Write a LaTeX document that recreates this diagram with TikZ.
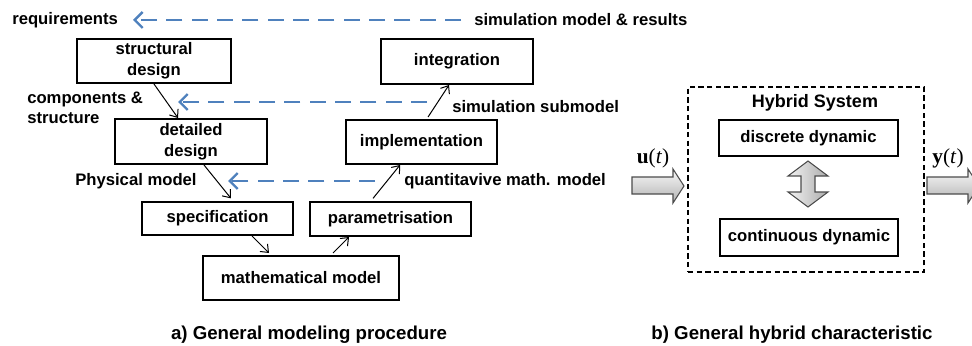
\documentclass[tikz,border=0pt]{standalone}
\usepackage{fontspec}
\setmainfont{Liberation Sans}
\newfontfamily\serifface{Liberation Serif}
\usetikzlibrary{arrows.meta}
\definecolor{dashblue}{HTML}{4F81BD}
\tikzset{
  box/.style={draw, line width=1.5pt, inner sep=0pt, align=center, font=\bfseries\fontsize{12.5}{15.5}\selectfont},
  lbl/.style={inner sep=0pt, align=left, font=\bfseries\fontsize{12.5}{15}\selectfont},
  captiontext/.style={inner sep=0pt, font=\bfseries\fontsize{14}{16}\selectfont},
  flow/.style={line width=0.75pt, -{Straight Barb[length=5pt,width=8pt]}},
  back/.style={dashblue, line width=1.8pt, dash pattern=on 12pt off 7pt, -{Straight Barb[length=6pt,width=12pt]}},
  grayarrow/.style={draw=gray!60!black, line width=0.8pt},
}
\begin{document}
\begin{tikzpicture}[x=0.75pt,y=-0.75pt]
\useasboundingbox (0,0) rectangle (972,346);
\clip (0,0) rectangle (972,346);
% left part: boxes
\node[box, minimum width=115.5pt, minimum height=33pt] (sd) at (154,61) {structural\\design};
\node[box, minimum width=114pt, minimum height=33.75pt] (dd) at (191,141.5) {detailed\\design};
\node[box, minimum width=113.25pt, minimum height=24.75pt] (spec) at (217.5,218.5) {specification};
\node[box, minimum width=120.75pt, minimum height=25.5pt] (param) at (390.5,219) {parametrisation};
\node[box, minimum width=147pt, minimum height=33pt] (mm) at (301,278) {mathematical model};
\node[box, minimum width=114pt, minimum height=33.75pt] (integ) at (457,61.5) {integration};
\node[box, minimum width=113.25pt, minimum height=33pt] (impl) at (421.5,142) {implementation};
% labels
\node[lbl, anchor=west] (req) at (12,20) {requirements};
\node[lbl, anchor=west] (simres) at (474,20) {simulation model \& results};
\node[lbl, anchor=west] (comp) at (27,108) {components \&\\structure};
\node[lbl, anchor=west] (phys) at (75,181) {Physical model};
\node[lbl, anchor=west] (quant) at (404,181) {quantitavive math. model};
\node[lbl, anchor=west] (simsub) at (452,107) {simulation submodel};
\node[captiontext] (capa) at (309,335) {a) General modeling procedure};
\node[captiontext] (capb) at (792,335) {b) General hybrid characteristic};
% solid flow arrows
\draw[flow] (sd.south) -- ([xshift=-9.75pt]dd.north);
\draw[flow] ([xshift=9.75pt]dd.south) -- ([xshift=10.1pt,yshift=2pt]spec.north);
\draw[flow] ([xshift=25.9pt]spec.south) -- ([xshift=-24pt,yshift=1.5pt]mm.north);
\draw[flow] ([xshift=24pt,yshift=1.5pt]mm.north) -- ([xshift=-31.1pt]param.south);
\draw[flow] ([xshift=-13.1pt,yshift=2pt]param.north) -- ([xshift=-16.1pt]impl.south);
\draw[flow] ([xshift=4.9pt,yshift=1.5pt]impl.north) -- ([xshift=-6pt]integ.south);
% dashed back arrows
\coordinate (b1s) at (461,20);
\coordinate (b1e) at (133,20);
\coordinate (b2s) at (427,102);
\coordinate (b2e) at (178,102);
\coordinate (b3s) at (375,181);
\coordinate (b3e) at (228,181);
\draw[back] (b1s) -- (b1e);
\draw[back] (b2s) -- (b2e);
\draw[back] (b3s) -- (b3e);
% right part
\node[draw, line width=1.2pt, dash pattern=on 4pt off 2.5pt, minimum width=177pt, minimum height=138.75pt, inner sep=0pt] (hyb) at (806,179.5) {};
\node[inner sep=0pt, font=\bfseries\fontsize{13.5}{16}\selectfont] (hs) at (815,103) {Hybrid System};
\node[box, line width=1pt, minimum width=134.25pt, minimum height=27pt] (disc) at (808.5,138) {discrete dynamic};
\node[box, line width=1pt, minimum width=133.5pt, minimum height=27.75pt] (cont) at (809,237.5) {continuous dynamic};
% gray block arrows
\draw[grayarrow, top color=gray!5, bottom color=gray!60]
  (632,177) -- (673,177) -- (673,169) -- (684,186) -- (673,203) -- (673,194) -- (632,194) -- cycle;
\draw[grayarrow, top color=gray!5, bottom color=gray!60]
  (927,177) -- (968,177) -- (968,169) -- (979,186) -- (968,203) -- (968,194) -- (927,194) -- cycle;
\draw[grayarrow, left color=gray!10, right color=gray!65]
  (808,161) -- (828,176) -- (815,176) -- (815,192) -- (828,192) -- (808,207) -- (788,192) -- (801,192) -- (801,176) -- (788,176) -- cycle;
\node[inner sep=0pt, font=\serifface\fontsize{16}{18}\selectfont] (ut) at (653,158) {\textbf{u}(\textit{t})};
\node[inner sep=0pt, font=\serifface\fontsize{16}{18}\selectfont] (yt) at (948,158) {\textbf{y}(\textit{t})};
\end{tikzpicture}
\end{document}
